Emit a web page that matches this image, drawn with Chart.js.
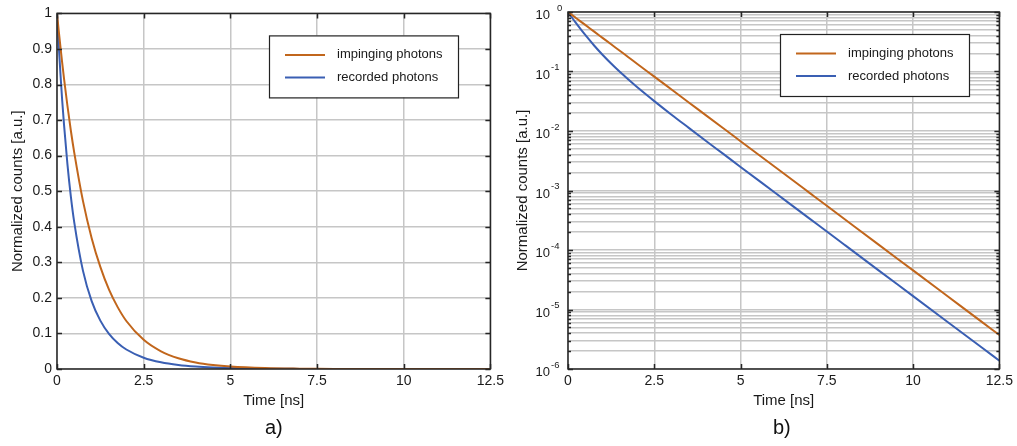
<!DOCTYPE html>
<html><head><meta charset="utf-8">
<script src="https://cdn.jsdelivr.net/npm/chart.js@4/dist/chart.umd.min.js"></script>
<style>
html,body{margin:0;padding:0;background:#fff;width:1017px;height:446px;overflow:hidden;font-family:"Liberation Sans",Arial,sans-serif}
#wrapA{position:absolute;left:0;top:0;width:508px;height:446px}
#wrapB{position:absolute;left:508px;top:0;width:509px;height:446px}
.panel{position:absolute;font-size:20px;line-height:20px;color:#111}
</style></head><body>
<div id="wrapA"><canvas id="cA" width="508" height="446"></canvas></div>
<div id="wrapB"><canvas id="cB" width="509" height="446"></canvas></div>
<div class="panel" style="left:265px;top:417px">a)</div>
<div class="panel" style="left:773px;top:417px">b)</div>
<script>
// ---- data ----
const timeNs = [0,0.05,0.1,0.15,0.2,0.3,0.4,0.5,0.75,1,1.25,1.5,1.75,2,2.5,3,3.5,4,4.5,5,6,7,7.5,8,9,10,11,12,12.5];
const impinging = [1,0.951,0.905,0.861,0.819,0.741,0.670,0.607,0.472,0.368,0.287,0.223,0.174,0.135,0.0821,0.0498,0.0302,0.0183,0.0111,0.00674,0.00248,0.000912,0.000553,0.000335,0.000123,4.54e-5,1.67e-5,6.14e-6,3.73e-6];
const recorded = [1,0.910,0.829,0.755,0.690,0.577,0.485,0.411,0.276,0.191,0.136,0.0988,0.0732,0.0548,0.0318,0.0188,0.0113,0.00681,0.00412,0.00249,0.000917,0.000337,0.000205,0.000124,4.55e-5,1.68e-5,6.18e-6,2.27e-6,1.38e-6];
const seriesLabels = ['impinging photons','recorded photons'];
const xTicks = [0,2.5,5,7.5,10,12.5];
const yLinTicks = [0,0.1,0.2,0.3,0.4,0.5,0.6,0.7,0.8,0.9,1];
const yLogExps = [-6,-5,-4,-3,-2,-1,0];

const ORANGE = '#c1661c';
const BLUE = '#3a5fb3';
const GRID = '#c6c6c6';
const AXIS = '#262626';
const TXT = '#1a1a1a';
const FONT = '"Liberation Sans", Arial, sans-serif';

function makeData(){
  return {
    datasets: [
      {label: seriesLabels[0], data: timeNs.map((t,i)=>({x:t,y:impinging[i]})), borderColor: ORANGE, backgroundColor: ORANGE},
      {label: seriesLabels[1], data: timeNs.map((t,i)=>({x:t,y:recorded[i]})), borderColor: BLUE, backgroundColor: BLUE}
    ]
  };
}

const framePlugin = {
  id: 'frame',
  afterDatasetsDraw(chart){
    const {ctx, chartArea:{left,right,top,bottom}} = chart;
    const xs = chart.scales.x, ys = chart.scales.y;
    const isLog = ys.type === 'logarithmic';
    ctx.save();
    ctx.strokeStyle = AXIS;
    ctx.lineWidth = 1.5;
    ctx.beginPath();
    xs.ticks.forEach(t=>{
      const px = Math.round(xs.getPixelForValue(t.value))+0.5;
      ctx.moveTo(px,bottom); ctx.lineTo(px,bottom-5);
      ctx.moveTo(px,top); ctx.lineTo(px,top+5);
    });
    ys.ticks.forEach(t=>{
      const py = Math.round(ys.getPixelForValue(t.value))+0.5;
      const L = (isLog && !t.major) ? 3 : 5;
      ctx.moveTo(left,py); ctx.lineTo(left+L,py);
      ctx.moveTo(right,py); ctx.lineTo(right-L,py);
    });
    ctx.stroke();
    ctx.strokeRect(left,top,right-left,bottom-top);
    ctx.restore();
  },
  afterDraw(chart){
    const {ctx, chartArea:{left,top}} = chart;
    const ys = chart.scales.y;
    ctx.save();
    // log tick labels with superscript exponents
    if (ys.type === 'logarithmic') {
      ctx.fillStyle = TXT;
      yLogExps.forEach(e=>{
        const py = ys.getPixelForValue(Math.pow(10,e));
        ctx.font = '13px ' + FONT;
        ctx.textAlign = 'right'; ctx.textBaseline = 'middle';
        ctx.fillText('10', left-18, py+3.5);
        ctx.font = '9.5px ' + FONT;
        ctx.textAlign = 'left';
        ctx.fillText(String(e), left-17 + (e===0?6:0), py-4);
      });
    }
    // legend box
    const bx = left+212, by = top+22, bw = 189, bh = 62;
    ctx.fillStyle = '#fff';
    ctx.fillRect(bx,by,bw,bh);
    ctx.strokeStyle = '#222'; ctx.lineWidth = 1.2;
    ctx.strokeRect(bx+0.5,by+0.5,bw,bh);
    chart.data.datasets.forEach((ds,i)=>{
      const ly = by + 19.5 + i*22.5;
      ctx.strokeStyle = ds.borderColor; ctx.lineWidth = 2;
      ctx.beginPath(); ctx.moveTo(bx+16,ly); ctx.lineTo(bx+56,ly); ctx.stroke();
      ctx.fillStyle = TXT; ctx.font = '13px ' + FONT;
      ctx.textAlign = 'left'; ctx.textBaseline = 'middle';
      ctx.fillText(ds.label, bx+68, ly);
    });
    ctx.restore();
  }
};

function makeOptions(isLog, yWidth, rightPad, titlePadTop){
  return {
    responsive: false,
    animation: false,
    layout: {padding: {left:0, right:rightPad, top:12, bottom:0}},
    plugins: {legend:{display:false}, tooltip:{enabled:false}},
    elements: {point:{radius:0}, line:{borderWidth:2, cubicInterpolationMode:'monotone'}},
    scales: {
      x: {
        type: 'linear', min: 0, max: 12.5,
        afterBuildTicks: s => { s.ticks = xTicks.map(v=>({value:v})); },
        grid: {color: GRID, lineWidth: 1.5, drawTicks: false},
        border: {display: false},
        ticks: {font:{family:FONT,size:14}, color: TXT, padding: 4, maxRotation: 0, autoSkip: false,
                callback: v => String(v)},
        title: {display: true, text: 'Time [ns]', font:{family:FONT,size:15}, color: TXT, padding:{top:0,bottom:36}},
        afterFit: s => { s.height = 77; }
      },
      y: isLog ? {
        type: 'logarithmic', min: 1e-6, max: 1,
        afterBuildTicks: s => {
          const arr = [];
          yLogExps.forEach(e=>{
            for (let k=1;k<=9;k++){
              const v = k*Math.pow(10,e);
              if (v <= 1.0000001) arr.push({value: v, major: k===1});
            }
          });
          s.ticks = arr;
        },
        grid: {color: GRID, lineWidth: 1.5, drawTicks: false},
        border: {display: false},
        ticks: {display: false, autoSkip: false},
        title: {display: true, text: 'Normalized counts [a.u.]', font:{family:FONT,size:15}, color: TXT, padding:{top:titlePadTop,bottom:0}},
        afterFit: s => { s.width = yWidth; }
      } : {
        type: 'linear', min: 0, max: 1,
        afterBuildTicks: s => { s.ticks = yLinTicks.map(v=>({value:v})); },
        grid: {color: GRID, lineWidth: 1.5, drawTicks: false},
        border: {display: false},
        ticks: {font:{family:FONT,size:14}, color: TXT, padding: 5, autoSkip: false,
                callback: v => String(Math.round(v*10)/10)},
        title: {display: true, text: 'Normalized counts [a.u.]', font:{family:FONT,size:15}, color: TXT, padding:{top:titlePadTop,bottom:0}},
        afterFit: s => { s.width = yWidth; }
      }
    }
  };
}

new Chart(document.getElementById('cA'), {type:'line', data: makeData(), options: makeOptions(false, 57, 17, 8.5), plugins:[framePlugin]});
new Chart(document.getElementById('cB'), {type:'line', data: makeData(), options: makeOptions(true, 60, 16, 6), plugins:[framePlugin]});
</script>
</body></html>
